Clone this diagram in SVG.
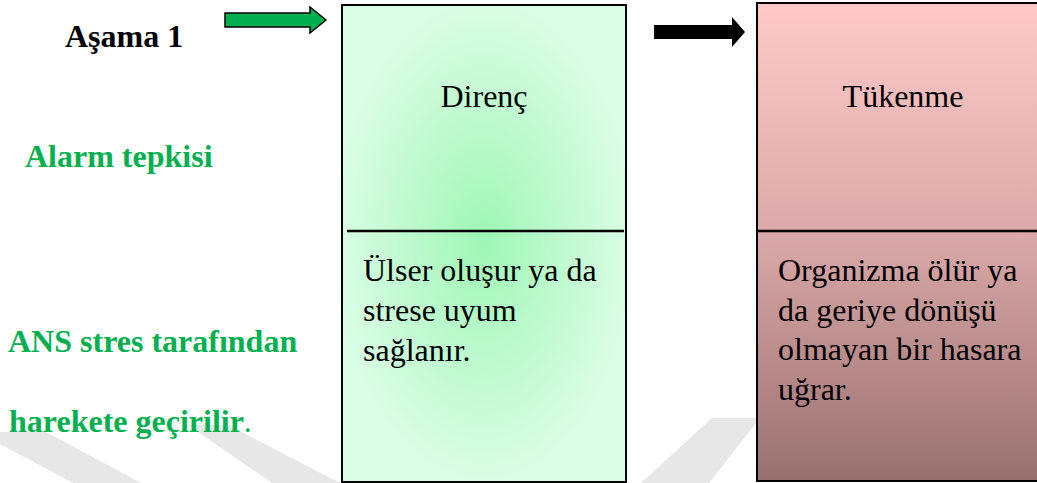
<svg xmlns="http://www.w3.org/2000/svg" width="1037" height="483" viewBox="0 0 1037 483">
  <style>
    text { font-family: 'Liberation Serif', 'DejaVu Serif', serif; }
    .lbl { font-weight: bold; font-size: 32px; }
    .green { fill: #00b050; }
    .body { font-size: 32px; fill: #000; }
    .box { stroke: #000; stroke-width: 2; }
    .div { stroke: #000; stroke-width: 2.5; }
    .wm { fill: #e7e7e7; }
  </style>
  <defs>
    <radialGradient id="gGreen" gradientUnits="userSpaceOnUse" cx="484" cy="240" r="240" gradientTransform="translate(484 240) scale(0.62 1) translate(-484 -240)">
      <stop offset="0" stop-color="#9ef7b4"/>
      <stop offset="0.45" stop-color="#baf9cb"/>
      <stop offset="1" stop-color="#dafde5"/>
    </radialGradient>
    <linearGradient id="gRed" x1="0" y1="0" x2="0" y2="1">
      <stop offset="0" stop-color="#ffc9c9"/>
      <stop offset="0.48" stop-color="#dba9a9"/>
      <stop offset="1" stop-color="#987070"/>
    </linearGradient>
  </defs>
  <rect width="1037" height="483" fill="#ffffff"/>

  <g id="watermark">
    <polygon class="wm" points="0,432 46,432 141,483 73,483 0,444"/>
    <polygon class="wm" points="188,425 228,425 340,483 272,483"/>
    <polygon class="wm" points="641,483 709,483 760,418 712,418"/>
  </g>

  <g id="label-asama">
    <text class="lbl" x="65" y="47" fill="#000">Aşama 1</text>
  </g>
  <g id="label-alarm">
    <text class="lbl green" x="25" y="167">Alarm tepkisi</text>
  </g>
  <g id="label-ans">
    <text class="lbl green" x="8" y="352">ANS stres tarafından</text>
    <text class="lbl green" x="9" y="432">harekete geçirilir<tspan font-weight="normal">.</tspan></text>
  </g>

  <g id="connectors">
    <polygon points="225,13 310,13 310,7 326,20 310,33 310,27 225,27" fill="#00b050" stroke="#000" stroke-width="1.5"/>
    <polygon points="654,25 732,25 732,17 745,32 732,47 732,39 654,39" fill="#000"/>
  </g>

  <g id="node-direnc">
    <rect class="box" x="342" y="5" width="284" height="477" fill="url(#gGreen)"/>
    <line class="div" x1="347" y1="231" x2="624" y2="231"/>
    <text class="body" x="484" y="107" text-anchor="middle">Direnç</text>
    <text class="body" x="363" y="281">Ülser oluşur ya da</text>
    <text class="body" x="363" y="321">strese uyum</text>
    <text class="body" x="363" y="361">sağlanır.</text>
  </g>

  <g id="node-tukenme">
    <rect class="box" x="757" y="3" width="292" height="478" fill="url(#gRed)"/>
    <line class="div" x1="757" y1="231" x2="1037" y2="231"/>
    <text class="body" x="903" y="107" text-anchor="middle">Tükenme</text>
    <text class="body" x="778" y="281">Organizma ölür ya</text>
    <text class="body" x="778" y="321">da geriye dönüşü</text>
    <text class="body" x="778" y="360">olmayan bir hasara</text>
    <text class="body" x="778" y="400">uğrar.</text>
  </g>
</svg>
